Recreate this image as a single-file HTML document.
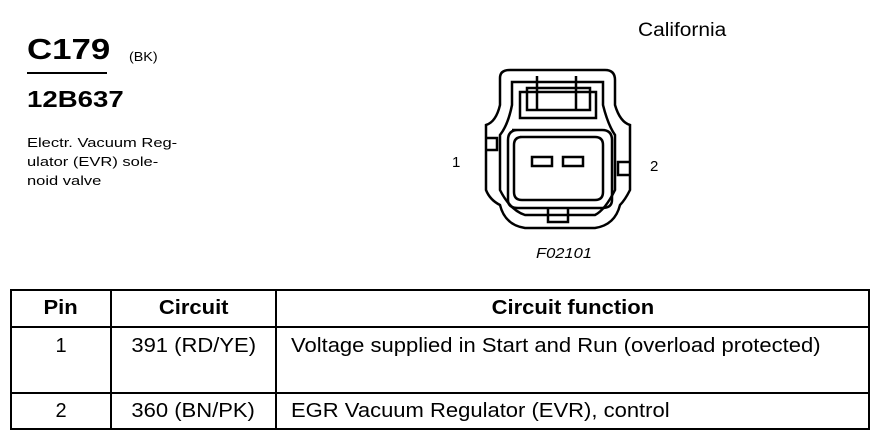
<!DOCTYPE html>
<html><head><style>
body{margin:0;width:880px;height:448px;background:#fff;position:relative;font-family:"Liberation Sans",Arial,sans-serif;color:#000;overflow:hidden}
.a{position:absolute;white-space:nowrap;transform-origin:0 0}
table{position:absolute;left:10px;top:289px;border-collapse:collapse;width:860px}
td{border:2px solid #000;font-size:20px;padding:0}
.s{display:inline-block;transform:scaleX(1.1);transform-origin:center}
.l{display:inline-block;transform:scaleX(1.1);transform-origin:0 0}
</style></head><body>
<div class="a" style="left:27px;top:34px;font-size:29px;font-weight:bold;transform:scaleX(1.2)">C179</div>
<div class="a" style="left:27px;top:72px;width:80px;border-top:2px solid #000"></div>
<div class="a" style="left:129px;top:49px;font-size:13px;transform:scaleX(1.1)">(BK)</div>
<div class="a" style="left:27px;top:86px;font-size:23px;font-weight:bold;transform:scaleX(1.2)">12B637</div>
<div class="a" style="left:27px;top:133px;font-size:13px;line-height:19px;transform:scaleX(1.27)">Electr. Vacuum Reg-<br>ulator (EVR) sole-<br>noid valve</div>
<div class="a" style="left:638px;top:20px;font-size:19px;transform:scaleX(1.1)">California</div>
<div class="a" style="left:452px;top:154px;font-size:15px">1</div>
<div class="a" style="left:650px;top:158px;font-size:15px">2</div>
<div class="a" style="left:536px;top:245px;font-size:15px;font-style:italic;transform:scaleX(1.1)">F02101</div>
<svg class="a" style="left:0;top:0" width="880" height="280" fill="none" stroke="#000" stroke-width="2.5">
<path d="M500 78 Q500 70 510 70 L605 70 Q615 70 615 80 L615 105 Q620 122 630 125 L630 190 Q625 200 620 205 Q615 225 595 228 L525 228 Q505 225 500 205 Q490 200 486 190 L486 125 Q496 122 500 105 Z"/>
<path d="M512 82 L603 82 L603 105 Q608 125 615 135 L615 190 Q605 210 595 215 L525 215 Q510 210 500 190 L500 135 Q508 125 512 105 Z"/>
<path d="M520 92 L596 92 L596 118 L520 118 Z"/>
<path d="M527 88 L590 88 L590 110 L527 110 Z"/>
<path d="M537 76 L537 110 M576 76 L576 110"/>
<path d="M512 130 L602 130 Q612 130 612 140 L612 200 Q612 208 602 208 L518 208 Q508 208 508 200 L508 140 Q508 130 518 130 Z"/>
<path d="M520 137 L595 137 Q603 137 603 145 L603 192 Q603 200 595 200 L522 200 Q514 200 514 192 L514 145 Q514 137 522 137 Z"/>
<rect x="532" y="157" width="20" height="9"/>
<rect x="563" y="157" width="20" height="9"/>
<path d="M486 138 L497 138 L497 150 L486 150 M630 162 L618 162 L618 175 L630 175"/>
<path d="M548 208 L548 222 L568 222 L568 208"/>
</svg>
<table>
<tr style="height:37px;font-weight:bold;text-align:center"><td style="width:98px"><span class="s">Pin</span></td><td style="width:163px"><span class="s">Circuit</span></td><td><span class="s">Circuit function</span></td></tr>
<tr style="height:66px;vertical-align:top"><td style="text-align:center;padding-top:7px">1</td><td style="text-align:center;padding-top:7px"><span class="s">391 (RD/YE)</span></td><td style="padding:7px 0 0 14px"><span class="l">Voltage supplied in Start and Run (overload protected)</span></td></tr>
<tr style="height:36px"><td style="text-align:center">2</td><td style="text-align:center"><span class="s">360 (BN/PK)</span></td><td style="padding-left:14px"><span class="l">EGR Vacuum Regulator (EVR), control</span></td></tr>
</table>
</body></html>
